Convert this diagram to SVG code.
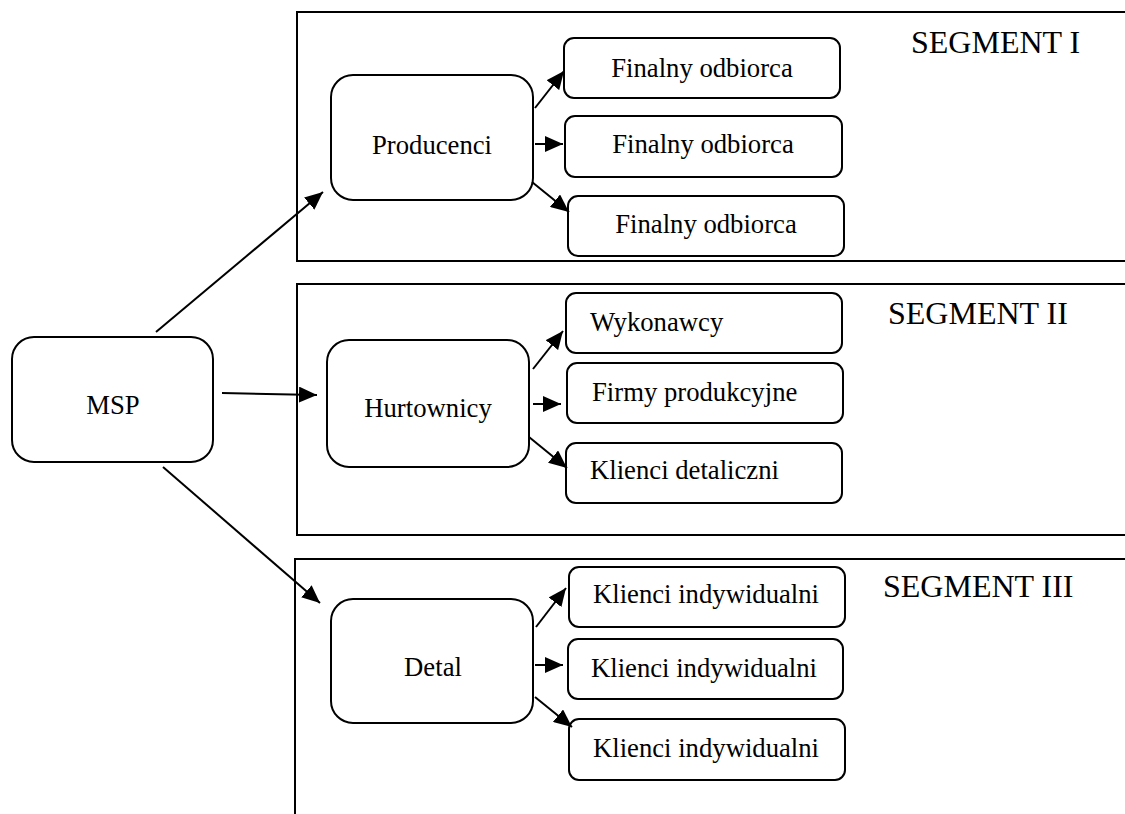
<svg xmlns="http://www.w3.org/2000/svg" width="1125" height="814" viewBox="0 0 1125 814">
<style>
  .seg { fill: none; stroke: #000; stroke-width: 2; }
  .box { fill: #fff; stroke: #000; stroke-width: 2; }
  .t { font-family: "Liberation Serif", "Times New Roman", serif; font-size: 26.7px; fill: #000; }
  .c { text-anchor: middle; }
  .st { font-family: "Liberation Serif", "Times New Roman", serif; font-size: 32px; fill: #000; }
  .conn line { stroke: #000; stroke-width: 2; marker-end: url(#ah); }
</style>
<defs>
  <marker id="ah" markerUnits="userSpaceOnUse" markerWidth="19" markerHeight="16" refX="18" refY="8" orient="auto">
    <path d="M0,0 L18,8 L0,16 z" fill="#000"/>
  </marker>
</defs>
<rect width="1125" height="814" fill="#fff"/>

<g id="segment1">
  <rect class="seg" x="297" y="12" width="900" height="249"/>
  <text class="st" x="911" y="53">SEGMENT I</text>
</g>
<g id="segment2">
  <rect class="seg" x="297" y="284" width="900" height="251"/>
  <text class="st" x="888" y="324">SEGMENT II</text>
</g>
<g id="segment3">
  <rect class="seg" x="295" y="559" width="900" height="400"/>
  <text class="st" x="883" y="597">SEGMENT III</text>
</g>

<g id="msp">
  <rect class="box" x="12" y="337" width="201" height="125" rx="22"/>
  <text class="t c" x="113" y="414">MSP</text>
</g>
<g id="producenci">
  <rect class="box" x="331" y="75" width="202" height="125" rx="22"/>
  <text class="t c" x="432" y="154">Producenci</text>
</g>
<g id="hurtownicy">
  <rect class="box" x="327" y="340" width="202" height="127" rx="22"/>
  <text class="t c" x="428" y="417">Hurtownicy</text>
</g>
<g id="detal">
  <rect class="box" x="331" y="599" width="202" height="124" rx="22"/>
  <text class="t c" x="433" y="676">Detal</text>
</g>

<g id="finalny1">
  <rect class="box" x="564" y="38" width="276" height="60" rx="10"/>
  <text class="t c" x="702" y="77">Finalny odbiorca</text>
</g>
<g id="finalny2">
  <rect class="box" x="565" y="116" width="277" height="61" rx="10"/>
  <text class="t c" x="703" y="153">Finalny odbiorca</text>
</g>
<g id="finalny3">
  <rect class="box" x="568" y="196" width="276" height="60" rx="10"/>
  <text class="t c" x="706" y="233">Finalny odbiorca</text>
</g>

<g id="wykonawcy">
  <rect class="box" x="566" y="293" width="276" height="60" rx="10"/>
  <text class="t" x="590" y="331">Wykonawcy</text>
</g>
<g id="firmy">
  <rect class="box" x="567" y="363" width="276" height="60" rx="10"/>
  <text class="t" x="592" y="401">Firmy produkcyjne</text>
</g>
<g id="detaliczni">
  <rect class="box" x="566" y="443" width="276" height="60" rx="10"/>
  <text class="t" x="590" y="479">Klienci detaliczni</text>
</g>

<g id="indyw1">
  <rect class="box" x="569" y="567" width="276" height="60" rx="10"/>
  <text class="t c" x="706" y="603">Klienci indywidualni</text>
</g>
<g id="indyw2">
  <rect class="box" x="568" y="639" width="275" height="60" rx="10"/>
  <text class="t c" x="704" y="677">Klienci indywidualni</text>
</g>
<g id="indyw3">
  <rect class="box" x="569" y="719" width="276" height="61" rx="10"/>
  <text class="t c" x="706" y="757">Klienci indywidualni</text>
</g>

<g id="connectors" class="conn">
  <line x1="156" y1="332" x2="323" y2="192"/>
  <line x1="222" y1="393" x2="317" y2="395"/>
  <line x1="163" y1="467" x2="320" y2="603"/>

  <line x1="535" y1="108" x2="564" y2="71"/>
  <line x1="535" y1="144" x2="563" y2="144"/>
  <line x1="532" y1="182" x2="569" y2="212"/>

  <line x1="533" y1="369" x2="563" y2="331"/>
  <line x1="533" y1="404" x2="561" y2="404"/>
  <line x1="529" y1="437" x2="567" y2="468"/>

  <line x1="536" y1="627" x2="566" y2="588"/>
  <line x1="535" y1="665" x2="563" y2="665"/>
  <line x1="535" y1="697" x2="572" y2="727"/>
</g>
</svg>
